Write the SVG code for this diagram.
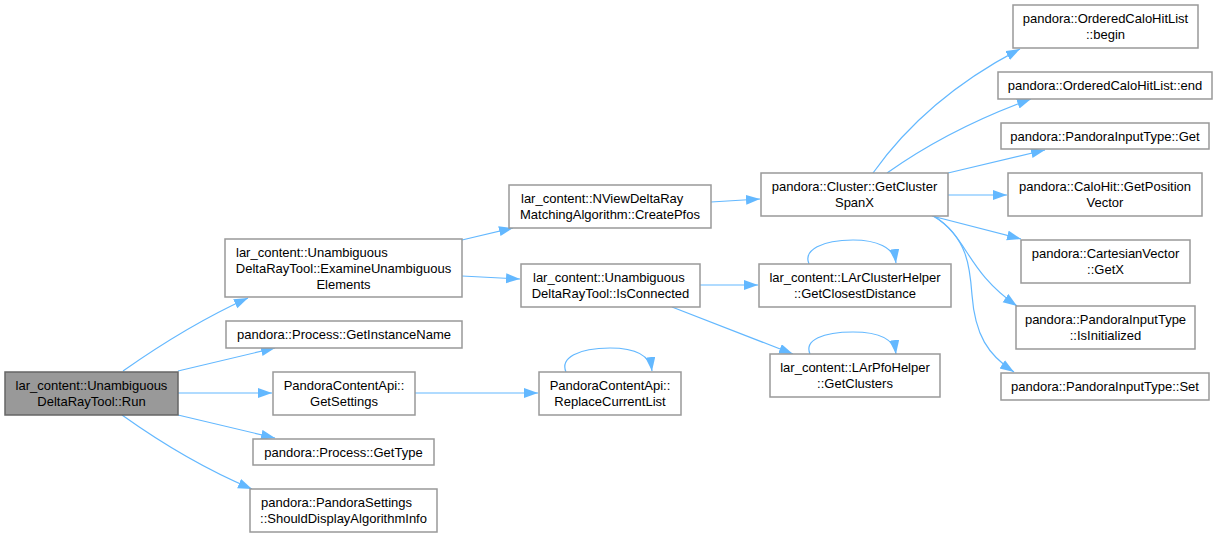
<svg xmlns="http://www.w3.org/2000/svg" width="1217" height="537" viewBox="0 0 1217 537">
<style>
.n rect{fill:#ffffff;stroke:#999999;stroke-width:1.5}
.n.cur rect{fill:#999999;stroke:#666666}
.n text{font-family:"Liberation Sans",Arial,sans-serif;font-size:13px;fill:#000000}
.m{text-anchor:middle}
.e path{fill:none;stroke:#63b8ff;stroke-width:1.2}
</style>
<defs>
<marker id="arr" markerUnits="userSpaceOnUse" markerWidth="15" markerHeight="11" refX="14" refY="5" orient="auto">
<path d="M0,0 L14,5 L0,10 z" fill="#63b8ff"/>
</marker>
</defs>
<rect width="1217" height="537" fill="#ffffff"/>
<g id="edges" class="e">
<path marker-end="url(#arr)" d="M123,371 C150,352 195,322 248,298"/>
<path marker-end="url(#arr)" d="M178,371 L275,348"/>
<path marker-end="url(#arr)" d="M178,393 L272,393"/>
<path marker-end="url(#arr)" d="M178,415 L275,438"/>
<path marker-end="url(#arr)" d="M122,415 C150,435 195,465 252,489"/>
<path marker-end="url(#arr)" d="M462,240 L513,228"/>
<path marker-end="url(#arr)" d="M462,276 L520,279"/>
<path marker-end="url(#arr)" d="M415,393 L538,393"/>
<path marker-end="url(#arr)" d="M566,372 C560,358 578,348 610,348 C632,348 650,354 652,371"/>
<path marker-end="url(#arr)" d="M711,202 L760,199"/>
<path marker-end="url(#arr)" d="M700,285 L758,285"/>
<path marker-end="url(#arr)" d="M672,307 L793,354"/>
<path marker-end="url(#arr)" d="M809,264 C803,250 822,240 853,240 C876,240 894,247 896,263"/>
<path marker-end="url(#arr)" d="M810,354 C804,340 823,332 853,332 C876,332 894,338 896,354"/>
<path marker-end="url(#arr)" d="M873,173 C900,135 945,88 1020,49"/>
<path marker-end="url(#arr)" d="M887,173 C918,151 962,124 1031,99"/>
<path marker-end="url(#arr)" d="M948,173 L1045,150"/>
<path marker-end="url(#arr)" d="M948,195 L1007,195"/>
<path marker-end="url(#arr)" d="M932,216 L1021,239"/>
<path marker-end="url(#arr)" d="M933,216 C968,236 965,270 1017,306"/>
<path marker-end="url(#arr)" d="M934,216 C968,238 970,268 972,295 C975,335 988,355 1014,372"/>
</g>
<g id="run" class="n cur"><rect x="5" y="372" width="173" height="43"/><text class="m" x="91.5" y="390">lar_content::Unambiguous</text><text class="m" x="91.5" y="406">DeltaRayTool::Run</text></g>
<g id="examine" class="n"><rect x="225" y="239" width="237" height="58"/><text x="236" y="257">lar_content::Unambiguous</text><text class="m" x="343.5" y="273">DeltaRayTool::ExamineUnambiguous</text><text class="m" x="343.5" y="289">Elements</text></g>
<g id="instname" class="n"><rect x="226" y="321" width="236" height="27"/><text class="m" x="344" y="339">pandora::Process::GetInstanceName</text></g>
<g id="getsettings" class="n"><rect x="273" y="372" width="142" height="43"/><text class="m" x="344" y="390">PandoraContentApi::</text><text class="m" x="344" y="406">GetSettings</text></g>
<g id="gettype" class="n"><rect x="253" y="439" width="181" height="26"/><text class="m" x="343.5" y="457">pandora::Process::GetType</text></g>
<g id="shoulddisplay" class="n"><rect x="250" y="489" width="187" height="43"/><text x="261" y="507">pandora::PandoraSettings</text><text class="m" x="343.5" y="523">::ShouldDisplayAlgorithmInfo</text></g>
<g id="createpfos" class="n"><rect x="509" y="185" width="202" height="43"/><text x="521" y="203">lar_content::NViewDeltaRay</text><text class="m" x="610" y="219">MatchingAlgorithm::CreatePfos</text></g>
<g id="isconnected" class="n"><rect x="521" y="264" width="179" height="43"/><text x="533" y="282">lar_content::Unambiguous</text><text class="m" x="610.5" y="298">DeltaRayTool::IsConnected</text></g>
<g id="replace" class="n"><rect x="539" y="372" width="142" height="43"/><text class="m" x="610" y="390">PandoraContentApi::</text><text class="m" x="610" y="406">ReplaceCurrentList</text></g>
<g id="spanx" class="n"><rect x="761" y="173" width="187" height="43"/><text class="m" x="854.5" y="191">pandora::Cluster::GetCluster</text><text class="m" x="854.5" y="207">SpanX</text></g>
<g id="closest" class="n"><rect x="759" y="264" width="192" height="43"/><text class="m" x="855" y="282">lar_content::LArClusterHelper</text><text class="m" x="855" y="298">::GetClosestDistance</text></g>
<g id="getclusters" class="n"><rect x="770" y="354" width="170" height="43"/><text class="m" x="855" y="372">lar_content::LArPfoHelper</text><text class="m" x="855" y="388">::GetClusters</text></g>
<g id="begin" class="n"><rect x="1013" y="5" width="185" height="43"/><text class="m" x="1105.5" y="23">pandora::OrderedCaloHitList</text><text class="m" x="1105.5" y="39">::begin</text></g>
<g id="end" class="n"><rect x="998" y="72" width="214" height="27"/><text class="m" x="1105" y="90">pandora::OrderedCaloHitList::end</text></g>
<g id="get" class="n"><rect x="1001" y="123" width="208" height="26"/><text class="m" x="1105" y="141">pandora::PandoraInputType::Get</text></g>
<g id="posvec" class="n"><rect x="1008" y="173" width="194" height="43"/><text class="m" x="1105" y="191">pandora::CaloHit::GetPosition</text><text class="m" x="1105" y="207">Vector</text></g>
<g id="getx" class="n"><rect x="1021" y="240" width="169" height="43"/><text class="m" x="1105.5" y="258">pandora::CartesianVector</text><text class="m" x="1105.5" y="274">::GetX</text></g>
<g id="isinit" class="n"><rect x="1016" y="306" width="179" height="43"/><text class="m" x="1105.5" y="324">pandora::PandoraInputType</text><text class="m" x="1105.5" y="340">::IsInitialized</text></g>
<g id="set" class="n"><rect x="1001" y="373" width="208" height="27"/><text class="m" x="1105" y="391">pandora::PandoraInputType::Set</text></g>
</svg>
